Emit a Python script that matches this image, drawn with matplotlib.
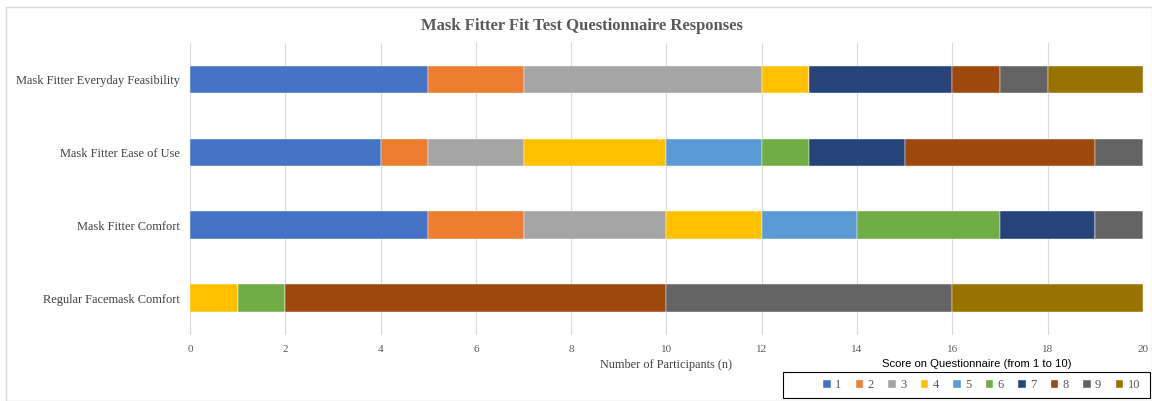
import numpy as np
import matplotlib.pyplot as plt
from matplotlib.patches import Rectangle

# questions, bottom to top as drawn
questions = ['Regular Facemask Comfort', 'Mask Fitter Comfort',
             'Mask Fitter Ease of Use', 'Mask Fitter Everyday Feasibility']
scores = ['1', '2', '3', '4', '5', '6', '7', '8', '9', '10']

# counts of participants per score (rows follow questions order)
regular = [0, 0, 0, 1, 0, 1, 0, 8, 6, 4]
comfort = [5, 2, 3, 2, 2, 3, 2, 0, 1, 0]
ease = [4, 1, 2, 3, 2, 1, 2, 4, 1, 0]
feasibility = [5, 2, 5, 1, 0, 0, 3, 1, 1, 2]

colors = ['#4472C4', '#ED7D31', '#A5A5A5', '#FFC000', '#5B9BD5',
          '#70AD47', '#264478', '#9E480E', '#636363', '#997300']

counts = np.array([regular, comfort, ease, feasibility])

fig = plt.figure(figsize=(11.52, 4.01), dpi=100)
ax = fig.add_axes([0.165, 0.165, 0.827, 0.728])

y = np.arange(len(questions))
left = np.zeros(len(questions))
for i, s in enumerate(scores):
    ax.barh(y, counts[:, i], left=left, height=0.38, color=colors[i],
            edgecolor='white', linewidth=0.3, label=s, zorder=3)
    left += counts[:, i]

ax.set_xlim(0, 20)
ax.set_ylim(-0.5, 3.5)
ax.set_xticks(range(0, 21, 2))
ax.set_yticks(y)
ax.set_yticklabels(questions, family='Liberation Serif', fontsize=8.9, color='#404040')
for lbl in ax.get_xticklabels():
    lbl.set_family('Liberation Serif')
    lbl.set_fontsize(8)
    lbl.set_color('#595959')
ax.tick_params(axis='y', length=0, pad=7)
ax.tick_params(axis='x', length=0, pad=7)
ax.grid(axis='x', color='#D9D9D9', linewidth=0.8, zorder=0)
for sp in ax.spines.values():
    sp.set_visible(False)

ax.set_xlabel('Number of Participants (n)', family='Liberation Serif',
              fontsize=8.8, color='#404040', labelpad=4)

fig.text(0.505, 0.935, 'Mask Fitter Fit Test Questionnaire Responses',
         family='Liberation Serif', fontsize=12, fontweight='bold',
         color='#595959', ha='center', va='center')

fig.text(0.848, 0.093, 'Score on Questionnaire (from 1 to 10)',
         family='Liberation Sans', fontsize=8.1, color='black',
         ha='center', va='center')

leg = fig.legend(loc='center', bbox_to_anchor=(0.852, 0.040), ncol=10,
                 prop={'family': 'Liberation Serif', 'size': 9},
                 frameon=False,
                 handlelength=0.6, handleheight=0.6, handletextpad=0.35,
                 columnspacing=1.15, borderpad=0.2)
for t in leg.get_texts():
    t.set_color('#595959')

# legend box, wider than its entries
fig.patches.append(Rectangle((0.680, 0.0075), 0.3186, 0.065, transform=fig.transFigure,
                             fill=False, edgecolor='black', linewidth=0.8))

# light outer border of the chart area
fig.patches.append(Rectangle((0.005, 0.0), 0.995, 0.982, transform=fig.transFigure,
                             fill=False, edgecolor='#D9D9D9', linewidth=1))

fig.savefig('out.png', dpi=100)
